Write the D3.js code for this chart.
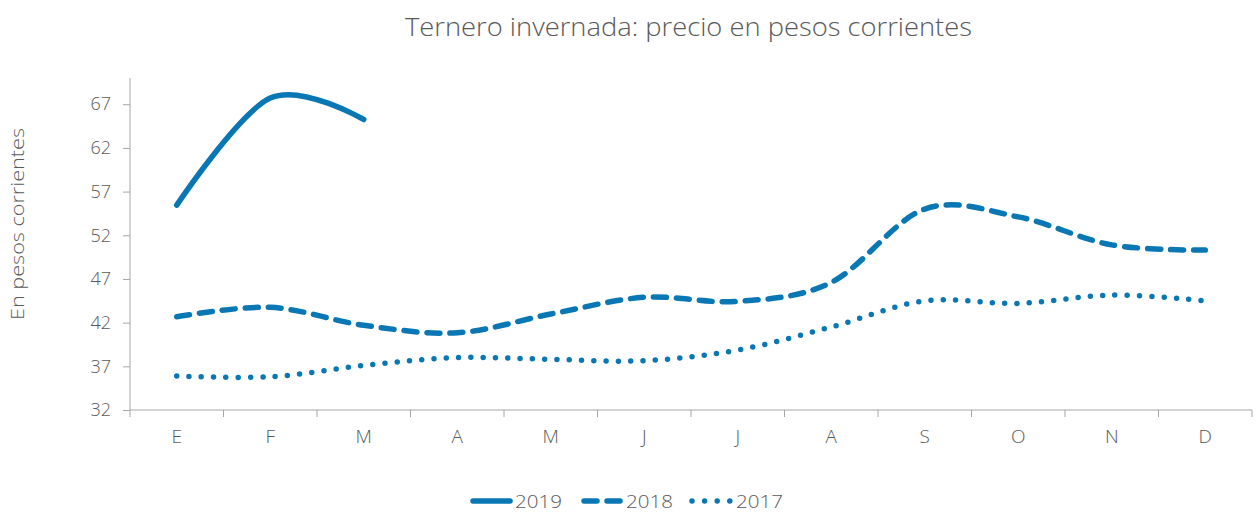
<!DOCTYPE html>
<html><head><meta charset="utf-8">
<script src="https://cdn.jsdelivr.net/npm/d3@7"></script>
<style>body{margin:0;background:#fff;}svg{display:block;font-family:"Open Sans","Lato",sans-serif;}</style>
</head><body><svg id="c" width="1257" height="515"></svg>
<script>
const months = ["E","F","M","A","M","J","J","A","S","O","N","D"];
const s2019 = [55.45, 67.7, 65.25];
const s2018 = [42.67, 43.75, 41.7, 40.84, 42.98, 44.9, 44.43, 46.6, 55.0, 54.1, 50.9, 50.3];
const s2017 = [35.9, 35.8, 37.1, 38.0, 37.8, 37.65, 38.86, 41.5, 44.5, 44.2, 45.15, 44.5];
const yTicks = [32, 37, 42, 47, 52, 57, 62, 67];
const seriesNames = ["2019", "2018", "2017"];

const color = "#0a77b5", gray = "#a6a6a6", txt = "#595959";
const FONT = "'Open Sans',Lato,sans-serif";
const svg = d3.select("#c");
const L = 130, R = 1252, T = 78, B = 410;
const idx = months.map((d,i)=>i);
const x = d3.scaleBand().domain(idx).range([L, R]);
const y = d3.scaleLinear().domain([32, 70]).range([B, T]);
const cx = i => x(i) + x.bandwidth()/2;

svg.append("text").attr("x", 405).attr("y", 36)
  .attr("font-size", 25).attr("font-weight", 300).attr("fill", txt)
  .attr("textLength", 567).attr("lengthAdjust","spacingAndGlyphs")
  .text("Ternero invernada: precio en pesos corrientes");

svg.append("text").attr("transform","translate(24,320) rotate(-90)")
  .attr("font-size", 19).attr("font-weight", 300).attr("fill", txt)
  .attr("textLength", 192).attr("lengthAdjust","spacingAndGlyphs")
  .text("En pesos corrientes");

// y axis
const ya = svg.append("g").attr("transform",`translate(${L},0)`)
  .call(d3.axisLeft(y).tickValues(yTicks).tickSize(7).tickPadding(12).tickFormat(d3.format("d")));
ya.select(".domain").attr("stroke", gray).attr("d", `M-0,${T}V${B}`);
ya.selectAll(".tick line").attr("stroke", gray);
ya.selectAll("text").attr("font-size", 18).attr("fill", txt).attr("font-family",FONT).attr("font-weight",300);

// x axis
const xa = svg.append("g").attr("transform",`translate(0,${B})`)
  .call(d3.axisBottom(x).tickFormat(i=>months[i]).tickSize(0).tickPadding(20));
xa.select(".domain").attr("stroke", gray).attr("d", `M${L},0H${R}`);
xa.selectAll("text").attr("font-size", 19).attr("fill", txt).attr("font-family",FONT).attr("font-weight",300);
xa.selectAll(".sep").data(d3.range(13)).enter().append("line")
  .attr("x1", i => i<12 ? x(i) : R).attr("x2", i => i<12 ? x(i) : R)
  .attr("y1", 0).attr("y2", 7).attr("stroke", gray);

const line = d3.line().x((d,i)=>cx(i)).y(d=>y(d)).curve(d3.curveCardinal.tension(0));
const styles = [
  {data:s2019, dash:null},
  {data:s2018, dash:"13,10"},
  {data:s2017, dash:"0,12.3"}
];
styles.forEach(s=>{
  svg.append("path").attr("d", line(s.data)).attr("fill","none").attr("stroke", color)
    .attr("stroke-width", 5.5).attr("stroke-linecap","round").attr("stroke-linejoin","round")
    .attr("stroke-dasharray", s.dash);
});

// legend
const leg = [
  {name:seriesNames[0], x0:473, x1:510, tx:515, dash:null},
  {name:seriesNames[1], x0:584, x1:620, tx:626, dash:"13,10"},
  {name:seriesNames[2], x0:692, x1:731, tx:736, dash:"0,12.6"}
];
leg.forEach(l=>{
  svg.append("line").attr("x1", l.x0).attr("x2", l.x1).attr("y1", 501).attr("y2", 501)
    .attr("stroke", color).attr("stroke-width", 5.5).attr("stroke-linecap","round")
    .attr("stroke-dasharray", l.dash);
  svg.append("text").attr("x", l.tx).attr("y", 508).attr("font-size", 19).attr("font-weight",300)
    .attr("fill", txt).attr("textLength", 47).attr("lengthAdjust","spacingAndGlyphs").text(l.name);
});
</script></body></html>
